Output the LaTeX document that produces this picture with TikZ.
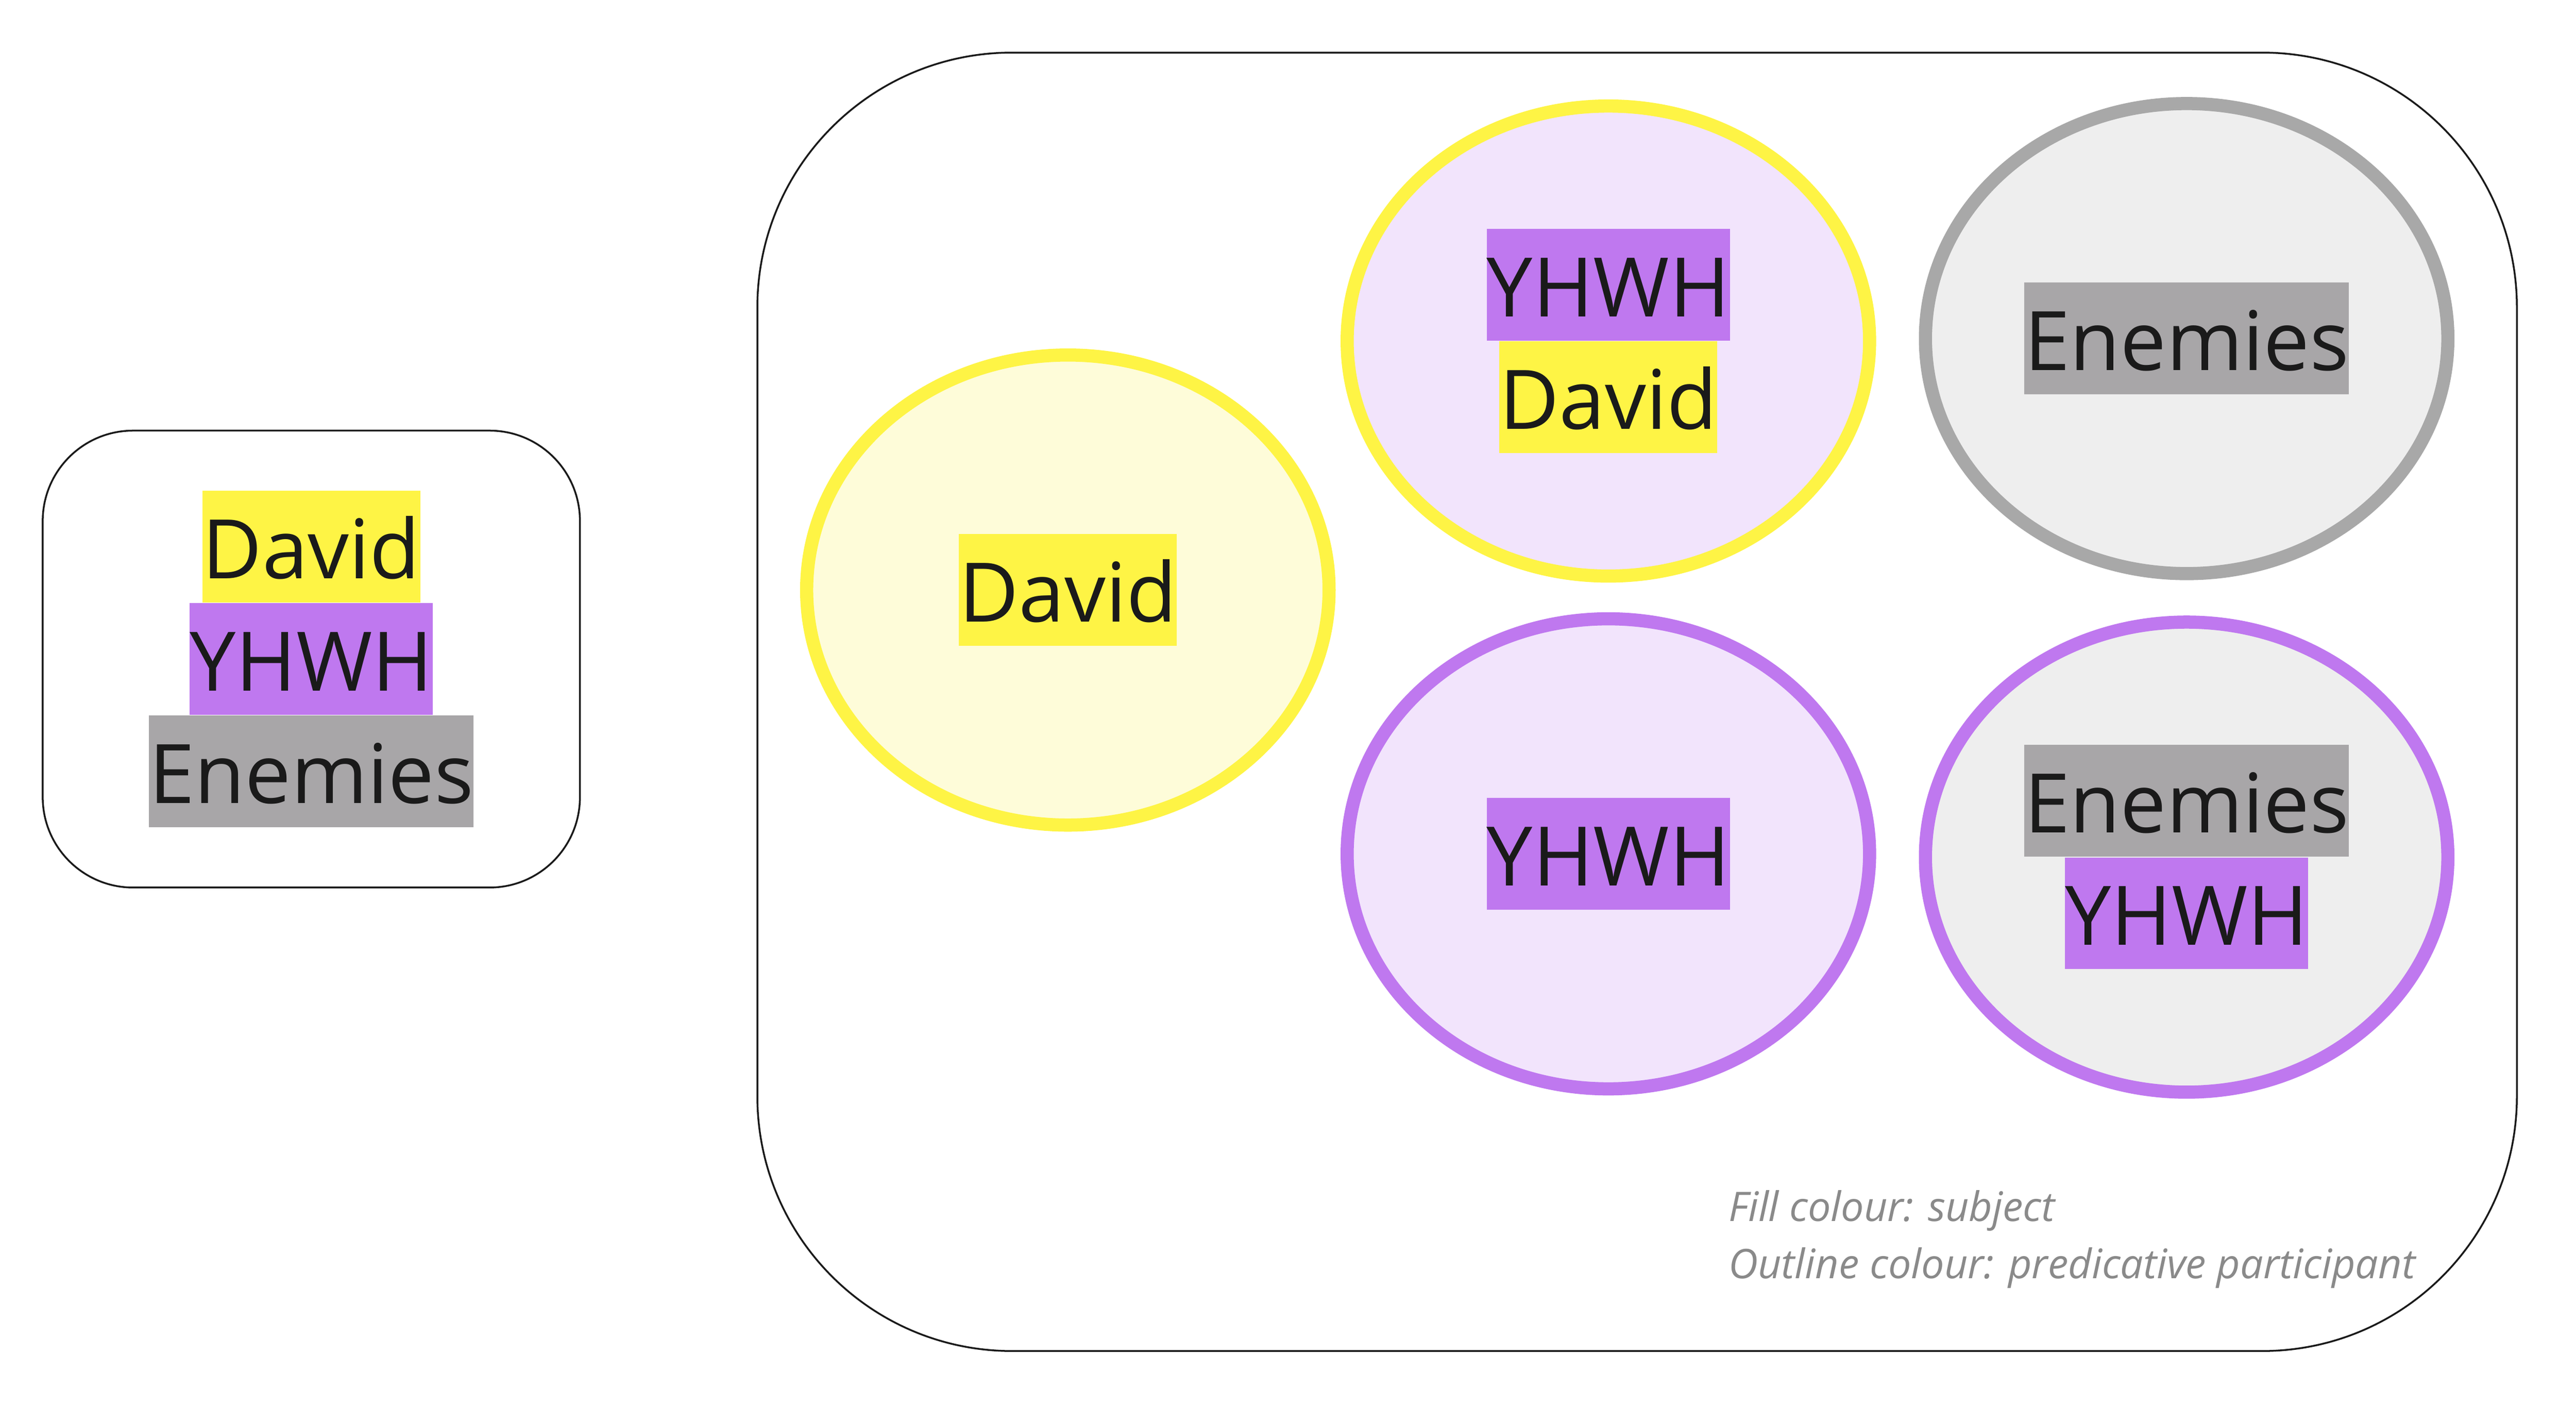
\documentclass[tikz,border=0pt]{standalone}
\usepackage{fontspec}
\setmainfont{Open Sans}
\usetikzlibrary{positioning,shapes.geometric}

\definecolor{hlyellow}{HTML}{FEF445}
\definecolor{hlpurple}{HTML}{BF78EF}
\definecolor{hlgray}{HTML}{A8A6A8}
\definecolor{fillyellow}{HTML}{FEFCD9}
\definecolor{fillpurple}{HTML}{F2E4FC}
\definecolor{fillgray}{HTML}{EEEEEE}
\definecolor{linegray}{HTML}{A8A8A8}
\definecolor{legendgray}{HTML}{8A8A8A}
\definecolor{ink}{HTML}{1A1A1A}

\newcommand{\labelfont}{\fontsize{50pt}{60pt}\selectfont}

\begin{document}
\begin{tikzpicture}[x=1pt,y=-1pt]
\tikzset{frame/.style={draw=ink,line width=1.1pt,minimum width=#1},
  hl/.style={fill=#1,inner sep=0pt,text height=53.4pt,text depth=14.6pt,font=\labelfont,text=ink},
  group/.style 2 args={ellipse,fill=#1,draw=#2,line width=8pt,minimum width=318pt,minimum height=286pt,inner sep=0pt}};
\useasboundingbox (0,0) rectangle (1568,854.2);

% left box with the three participants
\node (key) [frame=327pt,minimum height=278pt,rounded corners=55pt] at (189.5,401) {};
\node (kyhwh) [hl=hlpurple] at (189.5,401) {YHWH};
\node (kdavid) [hl=hlyellow,above=0pt of kyhwh] {David};
\node (kenemies) [hl=hlgray,below=0pt of kyhwh] {Enemies};

% right box with the groups
\node (main) [frame=1071pt,minimum height=790pt,rounded corners=155pt] at (996.5,427) {};

\node (gdavid) [group={fillyellow}{hlyellow}] at (650,359) {};
\node (ldavid) [hl=hlyellow] at (gdavid) {David};

\node (gyd) [group={fillpurple}{hlyellow}] at (979,207.5) {};
\node (lyd1) [hl=hlpurple,anchor=south] at (gyd.center) {YHWH};
\node (lyd2) [hl=hlyellow,below=0pt of lyd1] {David};

\node (genemies) [group={fillgray}{linegray}] at (1331,206) {};
\node (lenemies) [hl=hlgray] at (genemies) {Enemies};

\node (gyhwh) [group={fillpurple}{hlpurple}] at (979,519.5) {};
\node (lyhwh) [hl=hlpurple] at (gyhwh) {YHWH};

\node (gey) [group={fillgray}{hlpurple}] at (1331,521.5) {};
\node (ley1) [hl=hlgray,anchor=south] at (gey.center) {Enemies};
\node (ley2) [hl=hlpurple,below=0pt of ley1] {YHWH};

% legend
\node (legend) [anchor=base west,align=left,inner sep=0pt,text=legendgray,
  font=\fontsize{24.8pt}{35pt}\selectfont\itshape] at (1052,778)
  {Fill colour: subject\\Outline colour: predicative participant};
\end{tikzpicture}
\end{document}
